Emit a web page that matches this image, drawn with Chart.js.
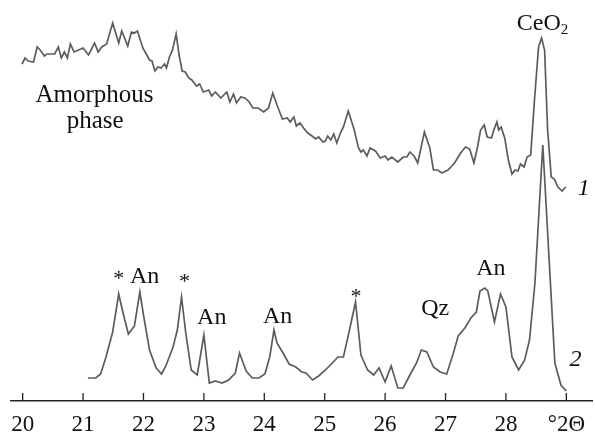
<!DOCTYPE html>
<html>
<head>
<meta charset="utf-8">
<script src="https://cdn.jsdelivr.net/npm/chart.js@4.4.1/dist/chart.umd.min.js"></script>
<style>
  html, body { margin: 0; padding: 0; background: #fff; }
  #wrap { width: 595px; height: 436px; }
</style>
</head>
<body>
<div id="wrap"><canvas id="xrd"></canvas></div>
<script>
// 2theta positions and intensities (arbitrary units)

// curve 1 - amorphous + CeO2
const theta1 = [19.99, 20.04, 20.09, 20.18, 20.24, 20.29, 20.36, 20.40, 20.53, 20.59, 20.64, 20.69, 20.74, 20.79, 20.85,
  21.00, 21.09, 21.19, 21.25, 21.31, 21.39, 21.49, 21.59, 21.64, 21.74, 21.80, 21.85, 21.90, 21.99, 22.10, 22.14,
  22.19, 22.24, 22.29, 22.35, 22.38, 22.43, 22.48, 22.54, 22.59, 22.64, 22.69, 22.75, 22.80, 22.88, 22.93, 22.99,
  23.08, 23.13, 23.19, 23.28, 23.38, 23.43, 23.49, 23.54, 23.61, 23.68, 23.75, 23.81, 23.90, 23.99, 24.07, 24.14,
  24.21, 24.30, 24.38, 24.43, 24.49, 24.53, 24.59, 24.65, 24.72, 24.79, 24.85, 24.90, 24.97, 25.01, 25.05, 25.10,
  25.15, 25.20, 25.26, 25.31, 25.39, 25.48, 25.56, 25.60, 25.64, 25.70, 25.75, 25.84, 25.92, 26.00, 26.05, 26.11,
  26.21, 26.30, 26.36, 26.41, 26.48, 26.54, 26.65, 26.74, 26.80, 26.87, 26.94, 27.04, 27.15, 27.25, 27.33, 27.40,
  27.47, 27.53, 27.58, 27.64, 27.69, 27.76, 27.80, 27.85, 27.88, 27.92, 27.98, 28.04, 28.10, 28.15, 28.20, 28.24,
  28.30, 28.35, 28.41, 28.47, 28.54, 28.59, 28.64, 28.69, 28.75, 28.80, 28.86, 28.93, 28.99]
const counts1 = [337, 343, 340, 339, 354, 351, 345, 347, 347, 354, 343, 349, 343, 357, 349,
  353, 346, 358, 349, 354, 357, 378, 358, 370, 355, 369, 368, 370, 353, 341, 340,
  330, 334, 333, 337, 333, 344, 351, 367, 346, 330, 329, 323, 321, 315, 317, 309,
  311, 305, 309, 303, 309, 299, 307, 298, 304, 303, 299, 293, 293, 289, 293, 308,
  296, 282, 283, 279, 284, 275, 278, 273, 268, 265, 262, 264, 259, 260, 265, 261,
  267, 258, 268, 274, 290, 273, 253, 249, 251, 245, 253, 250, 243, 245, 241, 244,
  239, 244, 244, 249, 245, 238, 269, 253, 231, 231, 228, 231, 238, 248, 254, 252,
  238, 254, 271, 276, 264, 263, 271, 279, 271, 274, 263, 241, 227, 231, 230, 237,
  234, 244, 246, 299, 354, 363, 351, 271, 224, 222, 214, 210, 214]

// curve 2 - crystalline phases
const theta2 = [21.08, 21.21, 21.29, 21.38, 21.49, 21.59, 21.67, 21.75, 21.85, 21.94, 22.00, 22.10, 22.21, 22.30,
  22.37, 22.49, 22.56, 22.63, 22.70, 22.79, 22.89, 23.00, 23.09, 23.19, 23.30, 23.41, 23.52, 23.59, 23.70, 23.80,
  23.91, 24.01, 24.09, 24.16, 24.21, 24.32, 24.41, 24.52, 24.62, 24.69, 24.80, 24.90, 25.01, 25.11, 25.22, 25.31,
  25.41, 25.51, 25.60, 25.71, 25.81, 25.90, 26.00, 26.10, 26.21, 26.30, 26.41, 26.52, 26.60, 26.69, 26.80, 26.91,
  27.02, 27.13, 27.21, 27.32, 27.42, 27.51, 27.57, 27.65, 27.70, 27.81, 27.91, 28.00, 28.10, 28.21, 28.31, 28.39,
  28.48, 28.61, 28.81, 28.91, 29.00]
const counts2 = [23, 23, 27, 44, 69, 107, 86, 67, 75, 109, 86, 51, 33, 27,
  35, 54, 71, 104, 68, 31, 26, 66, 18, 20, 18, 21, 28, 48, 30, 23,
  23, 27, 44, 71, 58, 47, 37, 34, 29, 28, 21, 25, 31, 37, 44, 44,
  71, 99, 46, 31, 26, 33, 19, 35, 13, 13, 26, 38, 51, 49, 34, 29,
  27, 48, 65, 73, 83, 89, 110, 113, 110, 79, 107, 94, 44, 31, 41, 61,
  118, 256, 38, 16, 10]

const tickValues = [20, 21, 22, 23, 24, 25, 26, 27, 28, 29]
const tickLabels = ['20', '21', '22', '23', '24', '25', '26', '27', '28', '°2Θ']

// labels: text, 2theta, intensity level of baseline
const labelText = ['Amorphous', 'phase', '*', 'An', '*', 'An', 'An', '*', 'Qz', 'An']
const labelTheta = [21.19, 21.20, 21.59, 22.02, 22.68, 23.13, 24.22, 25.52, 26.83, 27.75]
const labelLevel = [299, 273, 116, 118, 113, 77, 78, 98, 86, 126]

const curveNames = ['1', '2']
const curveNameTheta = [29.29, 29.15]
const curveNameLevel = [206, 35]

const lineColor = '#5c5c5c'
const serif = '"Liberation Serif", "DejaVu Serif", serif'

const toPoints = (xs, ys) => xs.map((x, i) => ({ x: x, y: ys[i] }))

// tick marks pointing up + text labels
const decorations = {
  id: 'decorations',
  afterDraw(chart) {
    const ctx = chart.ctx
    const xs = chart.scales.x
    const ys = chart.scales.y
    const bottom = chart.chartArea.bottom

    ctx.save()
    ctx.strokeStyle = '#222'
    ctx.lineWidth = 1.3
    tickValues.forEach(v => {
      const px = xs.getPixelForValue(v)
      ctx.beginPath()
      ctx.moveTo(px, bottom)
      ctx.lineTo(px, bottom - 8)
      ctx.stroke()
    })

    ctx.fillStyle = '#111'
    ctx.textBaseline = 'alphabetic'
    ctx.textAlign = 'center'
    labelText.forEach((t, i) => {
      let size = 24
      if (t === '*') size = 22
      if (i < 2) size = 25
      ctx.font = size + 'px ' + serif
      ctx.fillText(t, xs.getPixelForValue(labelTheta[i]), ys.getPixelForValue(labelLevel[i]))
    })

    // CeO2 with subscript
    ctx.textAlign = 'left'
    ctx.font = '24px ' + serif
    const cx = xs.getPixelForValue(28.18)
    const cy = ys.getPixelForValue(371)
    ctx.fillText('CeO', cx, cy)
    const w = ctx.measureText('CeO').width
    ctx.font = '15px ' + serif
    ctx.fillText('2', cx + w, cy + 4)

    ctx.textAlign = 'center'
    ctx.font = 'italic 24px ' + serif
    curveNames.forEach((t, i) => {
      ctx.fillText(t, xs.getPixelForValue(curveNameTheta[i]), ys.getPixelForValue(curveNameLevel[i]))
    })
    ctx.restore()
  }
}

new Chart('xrd', {
  type: 'line',
  data: {
    datasets: [
      { data: toPoints(theta1, counts1), borderColor: lineColor, borderWidth: 1.7, pointRadius: 0, tension: 0, fill: false },
      { data: toPoints(theta2, counts2), borderColor: lineColor, borderWidth: 1.7, pointRadius: 0, tension: 0, fill: false }
    ]
  },
  options: {
    responsive: true,
    maintainAspectRatio: false,
    animation: false,
    layout: { padding: { left: 11, right: 0, top: 0, bottom: 0 } },
    plugins: { legend: { display: false }, tooltip: { enabled: false } },
    scales: {
      x: {
        type: 'linear',
        min: 19.807,
        max: 29.433,
        afterBuildTicks: scale => { scale.ticks = tickValues.map(v => ({ value: v })) },
        afterFit: scale => { scale.height = 35 },
        grid: { display: false, drawTicks: false },
        border: { display: true, color: '#222', width: 1.5 },
        ticks: {
          autoSkip: false,
          maxRotation: 0,
          padding: 10,
          color: '#111',
          font: { family: serif, size: 23 },
          callback: (v, i) => tickLabels[tickValues.indexOf(v)]
        }
      },
      y: {
        display: false,
        min: 0,
        max: 401
      }
    }
  },
  plugins: [decorations]
})
</script>
</body>
</html>
